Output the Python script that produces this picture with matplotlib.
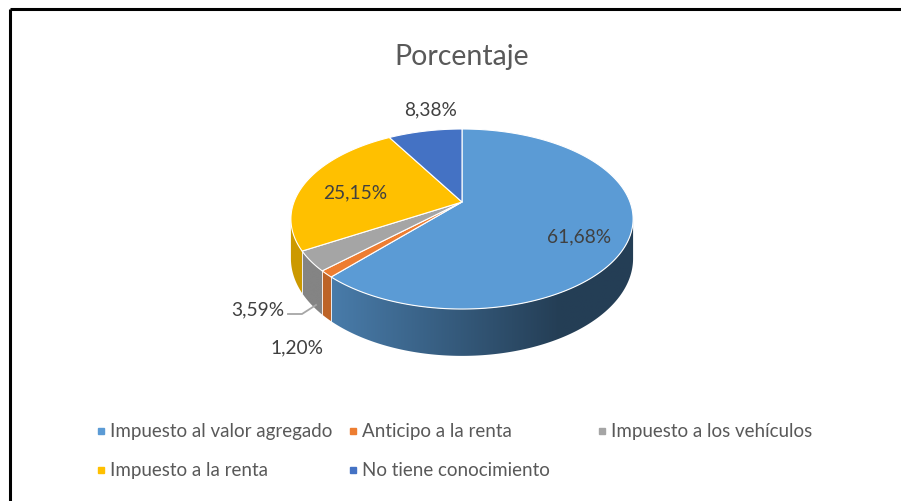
import numpy as np
import matplotlib.pyplot as plt
from matplotlib.patches import Polygon
from matplotlib.colors import to_rgb

plt.rcParams['font.family'] = ['Lato', 'DejaVu Sans']

# data
categories = ["Impuesto al valor agregado", "Anticipo a la renta", "Impuesto a los vehículos",
              "Impuesto a la renta", "No tiene conocimiento"]
values = [61.68, 1.20, 3.59, 25.15, 8.38]
labels = ["61,68%", "1,20%", "3,59%", "25,15%", "8,38%"]
colors = ["#5B9BD5", "#ED7D31", "#A5A5A5", "#FFC000", "#4472C4"]

# layout (pixel space)
label_pos = [(579, 237), (297, 348), (258, 310), (355, 193), (431, 110)]
legend_pos = [(101, 432), (353, 432), (602, 432), (101, 471), (353, 471)]

# 3d pie geometry: apex, radii, perspective, thickness
XA, YA = 462, 203
A, B, K, H = 168, 86.8, 0.189, 38


def proj(theta, s=0.0):
    t = np.radians(theta)
    u, v = np.sin(t), np.cos(t)
    w = 1 + K * v
    return XA + A * u / w, YA - B * v / w + H * s / w


def shade(x):
    return 0.40 + 0.40 * np.clip((560 - x) / 230, 0, 1)


fig = plt.figure(figsize=(9.01, 5.02), dpi=100)
ax = fig.add_axes([0, 0, 1, 1])
ax.set_xlim(0, 901)
ax.set_ylim(502, 0)
ax.axis('off')

# frame
ax.plot([10, 901], [10, 10], color="black", lw=2.2, solid_capstyle='butt')
ax.plot([10, 10], [10, 502], color="black", lw=2.2, solid_capstyle='butt')

fracs = np.array(values) / sum(values)
ends = np.cumsum(fracs) * 360
starts = ends - fracs * 360

vis_lo = np.degrees(np.arccos(-K))
vis_hi = 360 - vis_lo

# side walls with a horizontal light gradient
for st, en, c in zip(starts, ends, colors):
    lo, hi = max(st, vis_lo), min(en, vis_hi)
    if hi <= lo:
        continue
    rgb = np.array(to_rgb(c))
    arc = np.linspace(lo, hi, 200)
    top = [proj(a) for a in arc]
    bot = [proj(a, 1) for a in arc[::-1]]
    pts = np.array(top + bot)
    poly = Polygon(pts, closed=True, fc='none', ec='none')
    ax.add_patch(poly)
    x0, x1 = pts[:, 0].min() - 1, pts[:, 0].max() + 1
    y0, y1 = pts[:, 1].min() - 1, pts[:, 1].max() + 1
    xs = np.linspace(x0, x1, 300)
    img = (rgb[None, :] * shade(xs)[:, None])[None, :, :]
    im = ax.imshow(img, extent=(x0, x1, y1, y0), aspect='auto', interpolation='bilinear', zorder=1)
    im.set_clip_path(poly)
    for a in (lo, hi):
        if vis_lo < a < vis_hi:
            ax.plot(*zip(proj(a), proj(a, 1)), color="white", lw=0.6, alpha=0.7, zorder=2)

ax.set_xlim(0, 901)
ax.set_ylim(502, 0)

# top faces
for st, en, c in zip(starts, ends, colors):
    arc = np.linspace(st, en, max(4, int(en - st) * 2))
    pts = [(XA, YA)] + [proj(a) for a in arc]
    ax.add_patch(Polygon(pts, closed=True, fc=c, ec="white", lw=0.8, joinstyle='round', zorder=3))

# data labels
for lab, (x, y) in zip(labels, label_pos):
    ax.text(x, y, lab, ha='center', va='center', fontsize=13.8, color="#404040", zorder=4)

# leader line for 3,59%
ax.plot([288, 302, 316], [315, 315, 306], color="#A6A6A6", lw=1.3)

# title
ax.text(462, 57, "Porcentaje", ha='center', va='center', fontsize=20.5, color="#595959")

# legend
for cat, c, (x, y) in zip(categories, colors, legend_pos):
    ax.plot([x], [y], marker='s', ms=4.5, color=c, ls='none')
    ax.text(x + 9, y, cat, ha='left', va='center', fontsize=13.5, color="#595959")

fig.savefig("out.png", dpi=100)
